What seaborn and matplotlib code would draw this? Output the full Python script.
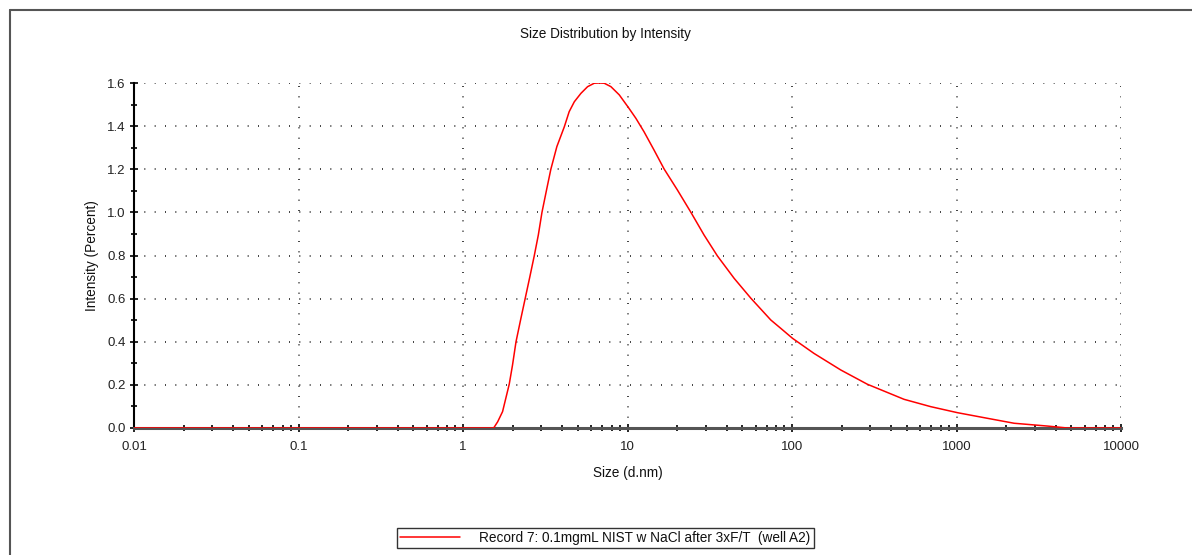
import matplotlib
matplotlib.use("Agg")
import matplotlib.pyplot as plt
from matplotlib.lines import Line2D
from matplotlib.ticker import LogLocator, FixedLocator, FixedFormatter, NullFormatter, MultipleLocator
import seaborn as sns
import pandas as pd

size_nm = [0.01, 0.1, 1.0, 1.536, 1.625, 1.74, 1.91, 2.00, 2.10, 2.25, 2.39, 2.55, 2.71, 2.87,
           3.02, 3.22, 3.42, 3.72, 4.13, 4.42, 4.75, 5.21, 5.72, 6.28, 6.73, 7.22, 7.93, 8.91,
           10.2, 11.25, 12.6, 14.5, 16.7, 20.1, 24.3, 29.2, 35.2, 44.5, 56.2, 74.3, 85.5, 100.7,
           136, 198, 287, 480, 697, 1014, 1541, 2240, 3570, 4720, 10000]
intensity = [0.0, 0.0, 0.0, 0.0, 0.029, 0.076, 0.203, 0.292, 0.400, 0.509, 0.602, 0.702, 0.798, 0.895,
             1.000, 1.104, 1.200, 1.305, 1.397, 1.467, 1.513, 1.552, 1.583, 1.599, 1.600, 1.599, 1.583, 1.545,
             1.483, 1.436, 1.374, 1.289, 1.201, 1.104, 1.000, 0.895, 0.798, 0.694, 0.602, 0.501, 0.462, 0.416,
             0.346, 0.269, 0.203, 0.133, 0.099, 0.071, 0.045, 0.022, 0.009, 0.0, 0.0]
x_ticks = [0.01, 0.1, 1, 10, 100, 1000, 10000]
x_tick_labels = ["0.01", "0.1", "1", "10", "100", "1000", "10000"]
y_ticks = [0.0, 0.2, 0.4, 0.6, 0.8, 1.0, 1.2, 1.4, 1.6]
series_label = "Record 7: 0.1mgmL NIST w NaCl after 3xF/T  (well A2)"

df = pd.DataFrame({"Size": size_nm, "Intensity": intensity, "Record": series_label})

sns.set_theme(style="white")
plt.rcParams["font.family"] = ["Liberation Sans", "DejaVu Sans"]

fig = plt.figure(figsize=(11.92, 5.55), dpi=100)
ax = fig.add_axes([134/1192, 1-428/555, (1121-134)/1192, (428-83)/555])

sns.lineplot(data=df, x="Size", y="Intensity", hue="Record", palette=["#ff0000"],
             linewidth=1.1, ax=ax, legend=True, zorder=3)

ax.set_xscale("log")
ax.set_xlim(0.01, 10000)
ax.set_ylim(0, 1.6)

ax.xaxis.set_major_locator(FixedLocator(x_ticks))
ax.xaxis.set_major_formatter(FixedFormatter(x_tick_labels))
ax.xaxis.set_minor_locator(LogLocator(base=10, subs=range(2, 10), numticks=20))
ax.xaxis.set_minor_formatter(NullFormatter())
ax.yaxis.set_major_locator(FixedLocator(y_ticks))
ax.yaxis.set_major_formatter(FixedFormatter([f"{v:.1f}" for v in y_ticks]))
ax.yaxis.set_minor_locator(MultipleLocator(0.1))

ax.grid(True, which="major", color="#222222", linestyle=(0, (0.6, 5.6)), linewidth=1.2)

for s in ["top", "right"]:
    ax.spines[s].set_visible(False)
ax.spines["left"].set_color("black")
ax.spines["left"].set_linewidth(1.5)
ax.spines["bottom"].set_color("#555555")
ax.spines["bottom"].set_linewidth(2.2)

ax.tick_params(axis="both", which="major", direction="inout", length=6, width=1.2,
               color="black", labelsize=9.5, labelcolor="#222222", pad=3)
ax.tick_params(axis="both", which="minor", direction="inout", length=5, width=1.2, color="black")
ax.tick_params(axis="x", which="major", pad=6)
ax.tick_params(axis="both", which="both", bottom=True, left=True)

ax.set_xlabel("Size (d.nm)", fontsize=9.8, color="#111111", labelpad=10)
ax.set_ylabel("Intensity (Percent)", fontsize=9.8, color="#111111", labelpad=6)
fig.text(605/1192, 1-34/555, "Size Distribution by Intensity", ha="center", va="center",
         fontsize=9.8, color="#111111")

leg = ax.legend(loc="center", bbox_to_anchor=(605/1192, 1-538/555), bbox_transform=fig.transFigure,
                frameon=True, fancybox=False, fontsize=9.8, handlelength=4.4, handletextpad=1.4,
                borderpad=0.25, borderaxespad=0)
leg.get_frame().set_edgecolor("black")
leg.get_frame().set_linewidth(1.0)
for t in leg.get_texts():
    t.set_color("#111111")

# outer panel border
fig.add_artist(Line2D([9.5/1192, 9.5/1192], [0, 1-10/555], transform=fig.transFigure,
                      color="#555555", linewidth=1.5))
fig.add_artist(Line2D([9.5/1192, 1], [1-10/555, 1-10/555], transform=fig.transFigure,
                      color="#555555", linewidth=1.5))

fig.savefig("out.png", dpi=100)
